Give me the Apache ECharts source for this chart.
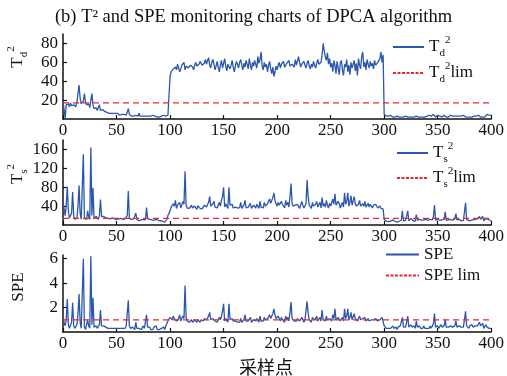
<html>
<head>
<meta charset="utf-8" />
<style>
  html, body { margin: 0; padding: 0; background: #fff; }
  #chart { width: 507px; height: 376px; }
</style>
<script src="https://cdn.jsdelivr.net/npm/echarts@6/dist/echarts.min.js"></script>
</head>
<body>
<div id="chart"></div>
<script type="text/javascript">
// x ticks shared by the three panels
var xTicks = [0, 50, 100, 150, 200, 250, 300, 350, 400];

// T_d^2, samples 0..400
var td2 = [
  19,20,1,15,14,16,13,17,14,12,15,16,13,18,20,36,22,16,14,19,
  27,18,15,13,16,12,14,27,15,11,10,12,9,10,15,9,8,10,9,8,
  8,7,8,6,7,6,5,6,5,6,5,6,5,4,5,5,4,5,4,4,
  4,11,5,4,3,4,3,5,4,3,3,6,3,4,3,2,3,4,3,2,
  3,2,3,2,4,2,3,2,2,3,2,1,3,2,4,2,3,2,4,3,
  45,50,48,53,51,55,52,58,54,50,53,57,55,60,52,56,58,54,53,57,
  59,55,52,57,60,56,54,58,61,62,57,55,59,63,58,62,65,57,54,60,
  63,58,52,56,61,55,50,57,62,54,59,64,56,51,58,60,53,57,62,55,
  50,56,61,58,54,60,63,57,52,59,55,62,58,53,64,57,52,60,56,62,
  58,54,66,59,63,71,56,52,60,55,58,50,57,61,53,48,55,45,50,56,
  52,57,60,54,58,56,61,55,53,59,57,62,56,54,58,60,55,63,57,59,
  66,60,55,58,56,61,57,54,59,62,56,53,58,55,61,57,54,59,63,58,
  56,60,68,80,72,66,62,70,58,64,55,59,50,62,57,48,61,54,47,59,
  62,52,46,58,55,63,50,57,47,60,54,56,62,51,59,46,64,57,53,66,
  71,55,60,52,63,58,54,61,56,59,53,62,57,55,60,58,64,71,60,68,
  5,4,3,4,3,2,4,3,2,3,2,4,3,2,2,3,2,3,2,2,
  3,2,2,4,2,3,2,3,2,2,3,2,2,3,2,4,2,3,2,2,
  3,2,4,2,3,2,5,3,2,3,4,2,3,2,2,3,4,3,2,3,
  2,3,4,2,3,2,3,4,3,2,3,2,3,2,4,3,2,3,2,3,
  2,3,2,2,3,2,3,2,4,3,2,3,2,3,2,3,5,7,4,3,
  4
];
var td2Lim = 17;

// T_s^2, samples 0..400
var ts2 = [
  50,35,20,40,81,30,15,12,25,70,20,12,10,15,40,84,25,12,10,150,
  14,10,12,30,18,12,164,20,79,15,12,18,14,12,20,54,18,16,18,17,
  15,16,14,15,13,14,15,12,13,14,12,15,13,12,14,13,12,11,13,12,
  20,72,14,11,12,10,13,11,25,12,10,9,13,11,10,12,9,11,37,14,
  10,12,9,11,8,10,9,12,8,10,7,9,6,8,7,6,8,12,20,25,
  30,38,34,45,40,52,35,42,38,48,36,40,50,44,114,42,36,40,35,38,
  42,36,34,40,37,33,41,38,35,39,34,37,42,45,38,36,48,60,40,37,
  45,50,38,42,36,35,48,40,52,60,80,38,45,40,35,80,42,38,44,36,
  34,38,40,36,33,37,48,35,39,42,52,36,34,38,40,46,35,37,42,38,
  36,44,40,35,50,38,42,36,48,40,37,45,41,55,46,50,58,68,52,45,
  40,48,42,38,50,44,40,36,52,42,48,38,60,88,45,40,36,42,38,44,
  40,35,38,50,42,36,40,45,95,60,42,38,35,48,40,36,44,50,38,42,
  48,36,58,40,45,38,52,42,36,46,40,38,55,44,66,42,38,50,45,36,
  40,48,38,68,44,50,68,40,48,62,42,38,60,45,40,36,44,52,40,38,
  45,40,50,38,42,46,38,44,40,36,42,38,44,40,36,38,40,35,38,34,
  12,10,8,9,7,10,8,9,11,7,8,10,6,9,8,12,10,30,9,8,
  10,12,30,9,8,14,10,9,11,8,22,10,9,12,8,10,9,11,8,12,
  9,10,8,12,9,11,18,42,10,9,12,8,10,14,11,9,12,28,10,9,
  11,8,12,15,10,9,13,24,11,10,12,14,9,11,10,13,47,12,10,9,
  12,10,14,11,9,12,10,13,11,18,12,10,18,9,11,14,10,12,8,10,
  9
];
var ts2Lim = 14;

// SPE, samples 0..400
var spe = [
  1.2,0.8,0.5,1.0,2.7,0.6,0.3,0.2,0.8,2.4,0.5,0.3,0.2,0.6,1.5,3.1,0.8,0.3,0.2,6.0,
  0.4,0.2,0.3,1.0,0.5,0.3,6.2,0.6,2.8,0.4,0.3,0.5,0.3,0.4,0.6,1.8,0.5,0.4,0.5,0.4,
  0.4,0.5,0.3,0.4,0.3,0.4,0.3,0.2,0.3,0.4,0.3,0.2,0.3,0.4,0.3,0.2,0.3,0.4,0.3,0.5,
  0.6,2.6,0.5,0.3,0.2,0.4,0.3,0.2,0.8,0.3,0.2,0.3,0.4,0.2,0.3,0.5,0.3,0.4,1.4,0.4,
  0.3,0.4,0.2,0.3,0.2,0.4,0.3,0.5,0.2,0.3,0.2,0.1,0.3,0.2,0.4,0.2,0.5,0.7,0.9,1.0,
  1.2,1.1,1.0,1.3,1.1,1.2,0.9,1.0,1.1,1.4,0.9,1.0,1.3,1.1,3.8,1.2,0.9,1.0,0.8,0.9,
  1.0,0.8,0.9,1.0,0.9,0.8,1.0,0.9,0.8,1.0,0.9,0.9,1.1,1.2,1.0,0.9,1.3,1.6,1.0,0.9,
  1.1,1.2,0.9,1.0,0.8,0.9,1.2,1.0,1.3,1.7,2.3,0.9,1.1,1.0,0.8,2.3,1.0,0.9,1.1,0.9,
  0.8,0.9,1.0,0.8,0.9,0.8,1.1,0.8,0.9,1.0,1.4,0.9,0.8,0.9,1.0,1.2,0.8,0.9,1.0,0.9,
  0.9,1.1,1.0,0.8,1.3,0.9,1.0,0.9,1.2,1.0,0.9,1.1,1.0,1.4,1.1,1.3,1.5,1.9,1.4,1.1,
  1.0,1.3,1.1,0.9,1.2,1.0,0.9,0.8,1.3,1.0,1.2,0.9,1.6,2.45,1.1,1.0,0.9,1.0,0.9,1.1,
  1.0,0.9,0.9,1.2,1.0,0.8,1.0,1.1,2.5,1.5,1.0,0.9,0.8,1.2,1.0,0.9,1.1,1.3,0.9,1.0,
  1.2,0.9,1.8,1.0,1.1,0.9,1.3,1.0,0.9,1.1,1.0,0.9,1.4,1.1,1.9,1.0,0.9,1.2,1.1,0.9,
  1.0,1.2,0.9,1.9,1.1,1.3,1.9,1.0,1.2,1.6,1.0,0.9,1.5,1.1,1.0,0.9,1.1,1.3,1.0,0.9,
  1.1,1.0,1.2,0.9,1.0,1.1,0.9,1.0,1.0,0.9,1.0,0.9,1.1,1.0,0.9,0.9,1.0,1.1,1.2,1.1,
  0.5,0.4,0.3,0.4,0.3,0.4,0.3,0.4,0.5,0.3,0.3,0.4,0.2,0.4,0.3,0.5,0.4,1.2,0.4,0.3,
  0.4,0.5,1.3,0.4,0.3,0.6,0.4,0.3,0.5,0.3,0.9,0.4,0.3,0.5,0.3,0.4,0.3,0.5,0.3,0.4,
  0.3,0.4,0.3,0.5,0.3,0.4,0.7,1.5,0.4,0.3,0.5,0.3,0.4,0.6,0.4,0.3,0.5,1.0,0.4,0.3,
  0.4,0.3,0.5,0.6,0.4,0.3,0.5,0.9,0.4,0.3,0.5,0.6,0.4,0.5,0.4,0.5,1.7,0.5,0.4,0.3,
  0.5,0.4,0.6,0.4,0.3,0.5,0.4,0.5,0.4,0.8,0.5,0.4,0.7,0.3,0.4,0.6,0.4,0.5,0.3,0.4,
  0.3
];
var speLim = 1.0;

var SERIF = '"Liberation Serif", "DejaVu Serif", serif';
var BLUE = '#2b56ad';
var RED = '#e8282a';
var INK = '#111';

function pairs(arr) {
    return arr.map(function (v, i) { return [i, v]; });
}
function limLine(v) {
    return [[xTicks[0], v], [xTicks[xTicks.length - 1], v]];
}

var rich = {
    m: { fontFamily: SERIF, fontSize: 17, lineHeight: 24, color: INK },
    sub: { fontFamily: SERIF, fontSize: 11, lineHeight: 11, verticalAlign: 'bottom', color: INK },
    sup: { fontFamily: SERIF, fontSize: 11, lineHeight: 11, verticalAlign: 'top', color: INK }
};
var legendText = {
    'Td2': '{m|T}{sub|d}{sup|2}',
    'Td2lim': '{m|T}{sub|d}{sup|2}{m|lim}',
    'Ts2': '{m|T}{sub|s}{sup|2}',
    'Ts2lim': '{m|T}{sub|s}{sup|2}{m|lim}',
    'SPE': '{m|SPE}',
    'SPE lim': '{m|SPE lim}'
};

function xAxisOf(idx) {
    return {
        type: 'value', gridIndex: idx, min: 0, max: 400, interval: 50,
        axisLine: { lineStyle: { color: INK, width: 1.5 } },
        axisTick: { inside: true, length: 4, lineStyle: { color: INK, width: 1.2 } },
        axisLabel: { fontFamily: SERIF, fontSize: 17, color: INK, margin: 3 },
        splitLine: { show: false }
    };
}
function yAxisOf(idx, max, step) {
    return {
        type: 'value', gridIndex: idx, min: 0, max: max, interval: step,
        axisLine: { show: true, lineStyle: { color: INK, width: 1.5 } },
        axisTick: { show: true, inside: true, length: 4, lineStyle: { color: INK, width: 1.2 } },
        axisLabel: { fontFamily: SERIF, fontSize: 17, color: INK, margin: 5, showMinLabel: false, showMaxLabel: false },
        splitLine: { show: false }
    };
}
function dataSeries(name, idx, arr) {
    return {
        name: name, type: 'line', xAxisIndex: idx, yAxisIndex: idx,
        data: pairs(arr), symbol: 'none', silent: true,
        lineStyle: { color: BLUE, width: 1.3 }, itemStyle: { color: BLUE }
    };
}
function limSeries(name, idx, v) {
    return {
        name: name, type: 'line', xAxisIndex: idx, yAxisIndex: idx,
        data: limLine(v), symbol: 'none', silent: true, z: 3,
        lineStyle: { color: RED, width: 1.2, type: [6, 4] }, itemStyle: { color: RED }
    };
}
function legendOf(names, left, top, width, gap) {
    return {
        orient: 'vertical', left: left, top: top, itemWidth: width, itemHeight: 10,
        itemGap: gap, padding: 0, selectedMode: false,
        itemStyle: { opacity: 0, borderWidth: 0 },
        data: [
            { name: names[0] },
            { name: names[1], lineStyle: { type: [3, 1.5] } }
        ],
        formatter: function (n) { return legendText[n]; },
        textStyle: { rich: rich }
    };
}
function axisName(text, x, y) {
    return {
        type: 'text', x: x, y: y, rotation: Math.PI / 2,
        style: { text: text, rich: rich, align: 'center', verticalAlign: 'middle', fill: INK }
    };
}

var chart = echarts.init(document.getElementById('chart'));
chart.setOption({
    animation: false,
    backgroundColor: '#fff',
    title: {
        text: '(b) T² and SPE monitoring charts of DPCA algorithm',
        left: 'center', top: 3,
        textStyle: { fontFamily: SERIF, fontSize: 18.5, fontWeight: 'normal', color: INK }
    },
    grid: [
        { left: 63, right: 15, top: 34, height: 85 },
        { left: 63, right: 15, top: 140, height: 85 },
        { left: 63, right: 15, top: 255, height: 77 }
    ],
    xAxis: [xAxisOf(0), xAxisOf(1), xAxisOf(2)],
    yAxis: [yAxisOf(0, 90, 20), yAxisOf(1, 180, 40), yAxisOf(2, 6.3, 2)],
    legend: [
        legendOf(['Td2', 'Td2lim'], 392, 35, 31, 2),
        legendOf(['Ts2', 'Ts2lim'], 396, 141, 31, 1),
        legendOf(['SPE', 'SPE lim'], 385, 246, 33, 4)
    ],
    graphic: [
        axisName('{m|T}{sub|d}{sup|2}', 18, 57),
        axisName('{m|T}{sub|s}{sup|2}', 18, 174),
        axisName('{m|SPE}', 19, 287),
        {
            type: 'text', x: 266, y: 367,
            style: { text: '采样点', font: '18px "Noto Sans CJK SC"', fill: INK, align: 'center', verticalAlign: 'middle' }
        }
    ],
    series: [
        dataSeries('Td2', 0, td2), limSeries('Td2lim', 0, td2Lim),
        dataSeries('Ts2', 1, ts2), limSeries('Ts2lim', 1, ts2Lim),
        dataSeries('SPE', 2, spe), limSeries('SPE lim', 2, speLim)
    ]
});
</script>
</body>
</html>
